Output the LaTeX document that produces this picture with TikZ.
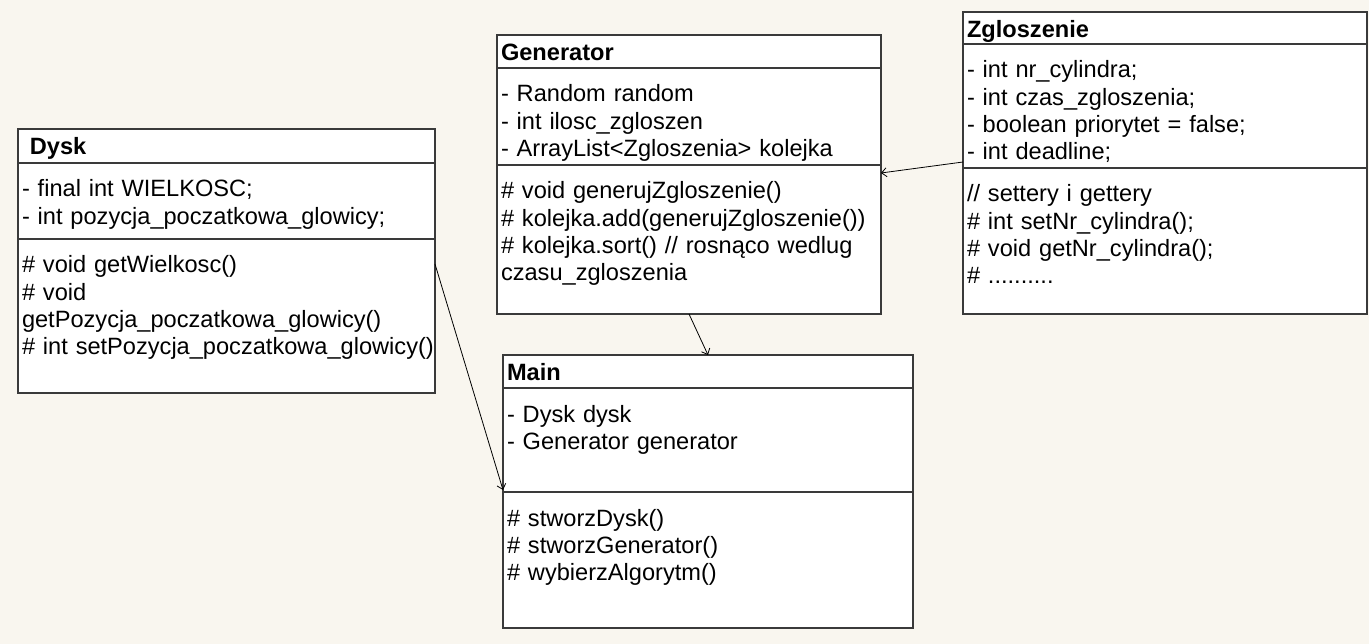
\documentclass[tikz,border=0pt]{standalone}
\usepackage{fontspec}
\setmainfont{Liberation Sans}
\usetikzlibrary{positioning,arrows.meta}

\definecolor{bgcol}{RGB}{249,246,239}
\definecolor{boxgray}{RGB}{58,58,58}

\begin{document}
\begin{tikzpicture}[x=1pt,y=-1pt,node distance=0pt,
			title/.style={draw=boxgray, line width=1.3pt, fill=white, anchor=north west, outer sep=0pt,
				inner xsep=4pt, inner ysep=0pt, align=left, text height=26pt,
				font=\fontsize{23.6pt}{27.3pt}\selectfont\bfseries},
			section/.style={draw=boxgray, line width=1.3pt, fill=white, outer sep=0pt,
				inner xsep=4pt, inner ysep=0pt, align=left, text height=34pt,
				font=\fontsize{23.6pt}{27.3pt}\selectfont},
			link/.style={-{Straight Barb[length=5pt,width=9pt]}, line width=0.8pt, black}
		]
		
		\fill[bgcol] (0,0) rectangle (1369,644);
		
		% Dysk
		\node[title, text width=409pt, text depth=8pt] (dysk_h) at (18,129) {~Dysk};
		\node[section, text width=409pt, text depth=42pt] (dysk_a) [below=of dysk_h]
			{- final int WIELKOSC;\\- int pozycja\_poczatkowa\_glowicy;};
		\node[section, text width=409pt, text depth=120pt] (dysk_m) [below=of dysk_a]
			{\# void getWielkosc()\\\# void\\getPozycja\_poczatkowa\_glowicy()\\\mbox{\# int setPozycja\_poczatkowa\_glowicy()}};
		
		% Generator
		\node[title, text width=376pt, text depth=7pt] (gen_h) at (497,35) {Generator};
		\node[section, text width=376pt, text depth=63pt] (gen_a) [below=of gen_h]
			{- Random random\\- int ilosc\_zgloszen\\- ArrayList<Zgloszenia> kolejka};
		\node[section, text width=376pt, text depth=115pt] (gen_m) [below=of gen_a]
			{\# void generujZgloszenie()\\\# kolejka.add(generujZgloszenie())\\\# kolejka.sort() // rosnąco wedlug\\czasu\_zgloszenia};
		
		% Zgloszenie
		\node[title, text width=396pt, text depth=6pt] (zgl_h) at (963,12) {Zgloszenie};
		\node[section, text width=396pt, text depth=90pt] (zgl_a) [below=of zgl_h]
			{- int nr\_cylindra;\\- int czas\_zgloszenia;\\- boolean priorytet = false;\\- int deadline;};
		\node[section, text width=396pt, text depth=112pt] (zgl_m) [below=of zgl_a]
			{// settery i gettery\\\# int setNr\_cylindra();\\\# void getNr\_cylindra();\\\# ..........};
		
		% Main
		\node[title, text width=402pt, text depth=7pt] (main_h) at (503,355) {Main};
		\node[section, text width=402pt, text depth=70pt] (main_a) [below=of main_h]
			{- Dysk dysk\\- Generator generator};
		\node[section, text width=402pt, text depth=102pt] (main_m) [below=of main_a]
			{\# stworzDysk()\\\# stworzGenerator()\\\# wybierzAlgorytm()};
		
		\draw[link] ([yshift=6pt]zgl_a.south west) -- ([yshift=-8pt]gen_m.north east);
		\draw[link] (gen_m.south) -- (main_h.north);
		\draw[link] ([yshift=-25pt]dysk_m.north east) -- ([yshift=2pt]main_a.south west);
	\end{tikzpicture}
\end{document}
